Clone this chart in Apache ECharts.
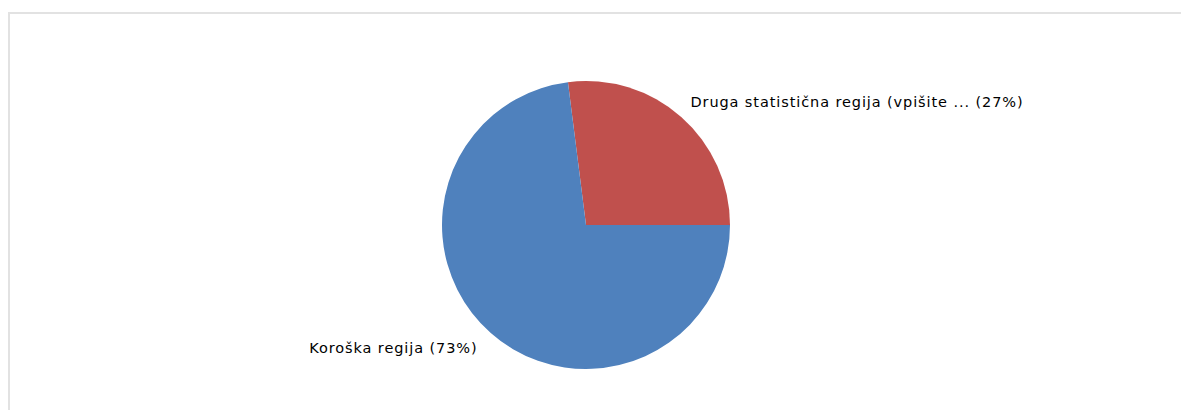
<!DOCTYPE html>
<html>
<head>
<meta charset="utf-8">
<script src="https://cdn.jsdelivr.net/npm/echarts@6/dist/echarts.min.js"></script>
<style>
  html, body { margin: 0; padding: 0; background: #fff; }
  #frame {
    position: absolute; left: 8px; top: 12px; width: 1173px; height: 398px;
    border-top: 2px solid #e2e2e2; border-left: 2px solid #e2e2e2;
    box-sizing: border-box;
  }
  #chart { position: absolute; left: 0; top: 0; width: 1181px; height: 410px; }
  /* slightly looser tracking for the slice labels */
  #chart text { letter-spacing: 0.9px; }
</style>
</head>
<body>
<div id="frame"></div>
<div id="chart"></div>
<script>
// Regions and their share of responses (percent)
const categories = ['Druga statistična regija (vpišite ...', 'Koroška regija'];
const shares = [27, 73];
const colors = ['#C0504D', '#4F81BD'];
// gap between the pie edge and each label's near side
const labelGaps = [-4, 0];

const total = shares.reduce((a, b) => a + b, 0);
const chart = echarts.init(document.getElementById('chart'), null, { renderer: 'svg' });

chart.setOption({
  animation: false,
  series: [{
    type: 'pie',
    center: [586, 225],
    radius: [0, 144],
    // first slice ends at the 3 o'clock position, drawn clockwise
    startAngle: shares[0] / total * 360,
    clockwise: true,
    avoidLabelOverlap: false,
    data: categories.map((name, i) => ({
      name, value: shares[i],
      itemStyle: { color: colors[i] },
      label: { distanceToLabelLine: labelGaps[i] }
    })),
    label: {
      show: true,
      position: 'outside',
      formatter: p => p.name + ' (' + p.value + '%)',
      fontFamily: 'DejaVu Sans',
      fontSize: 14.5,
      color: '#000'
    },
    labelLine: { show: false, length: 20, length2: 0 },
    emphasis: { disabled: true }
  }]
});
</script>
</body>
</html>
